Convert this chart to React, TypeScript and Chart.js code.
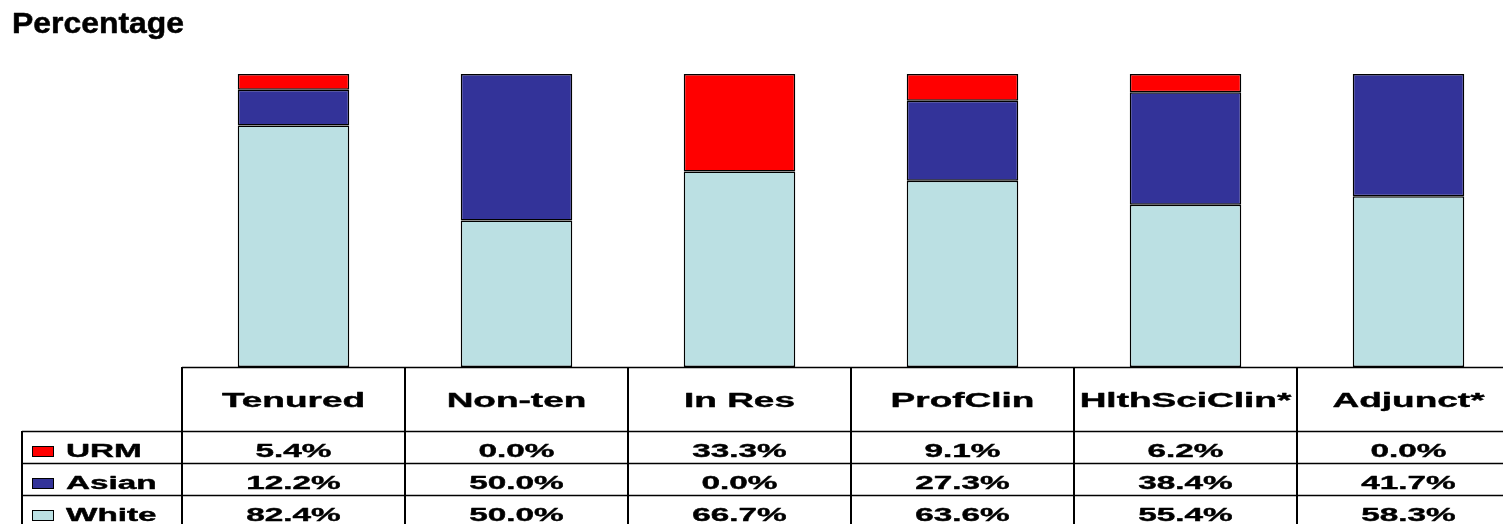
import React, { useEffect, useRef } from "react";
import { Chart, registerables } from "chart.js";

Chart.register(...registerables);

const categories = ["Tenured", "Non-ten", "In Res", "ProfClin", "HlthSciClin*", "Adjunct*"];
const seriesNames = ["URM", "Asian", "White"];
const urmValues = [5.4, 0.0, 33.3, 9.1, 6.2, 0.0];
const asianValues = [12.2, 50.0, 0.0, 27.3, 38.4, 41.7];
const whiteValues = [82.4, 50.0, 66.7, 63.6, 55.4, 58.3];
const seriesColors = ["#FF0000", "#333399", "#BBE0E3"];
const titleText = "Percentage";

const FONT = '"Liberation Sans", Arial, sans-serif';
const SX = 1.85;

function drawStretched(ctx: CanvasRenderingContext2D, text: string, x: number, y: number, font: string, sx: number, align: CanvasTextAlign, embolden = 0.4) {
  ctx.save();
  ctx.translate(x, y);
  ctx.scale(sx, 1);
  ctx.font = font;
  ctx.textAlign = align;
  ctx.textBaseline = "alphabetic";
  ctx.fillStyle = "#000";
  ctx.fillText(text, 0, 0);
  if (embolden > 0) {
    ctx.strokeStyle = "#000";
    ctx.lineWidth = embolden;
    ctx.lineJoin = "round";
    ctx.strokeText(text, 0, 0);
  }
  ctx.restore();
}

const tablePlugin = {
  id: "dataTable",
  afterDraw(chart: any) {
    const ctx: CanvasRenderingContext2D = chart.ctx;
    const area = chart.chartArea;
    const xs = chart.scales.x;
    const n = categories.length;
    const colW = (area.right - area.left) / n;
    const tableTop = area.bottom;
    const headerBottom = tableTop + 64;
    const rowH = 32;
    const legendLeft = 22;
    const canvasRight = chart.width;
    const bottom = chart.height;

    // title
    drawStretched(ctx, titleText, 12, 33, `bold 29px ${FONT}`, 1.1, "left", 0.5);

    ctx.save();
    ctx.strokeStyle = "#000";
    // horizontal lines
    ctx.lineWidth = 1.5;
    ctx.beginPath();
    ctx.moveTo(area.left, tableTop + 0.5);
    ctx.lineTo(canvasRight, tableTop + 0.5);
    for (let r = 0; r < seriesNames.length; r++) {
      const y = headerBottom + r * rowH + 0.5;
      ctx.moveTo(legendLeft, y);
      ctx.lineTo(canvasRight, y);
    }
    ctx.stroke();
    // vertical lines
    ctx.lineWidth = 2;
    ctx.beginPath();
    ctx.moveTo(legendLeft, headerBottom);
    ctx.lineTo(legendLeft, bottom);
    for (let i = 0; i <= n; i++) {
      const x = Math.round(area.left + i * colW);
      ctx.moveTo(x, tableTop);
      ctx.lineTo(x, bottom);
    }
    ctx.stroke();
    ctx.restore();

    const rows = [urmValues, asianValues, whiteValues];
    for (let i = 0; i < n; i++) {
      const cx = xs.getPixelForValue(i);
      drawStretched(ctx, categories[i], cx, tableTop + 40, `bold 20px ${FONT}`, SX, "center");
      for (let r = 0; r < rows.length; r++) {
        const y = headerBottom + r * rowH + 26;
        drawStretched(ctx, rows[r][i].toFixed(1) + "%", cx, y, `bold 18px ${FONT}`, SX, "center");
      }
    }
    // legend
    for (let r = 0; r < seriesNames.length; r++) {
      const y = headerBottom + r * rowH;
      ctx.save();
      ctx.fillStyle = seriesColors[r];
      ctx.fillRect(32, y + 15, 22, 11);
      ctx.strokeStyle = "#000";
      ctx.lineWidth = 1;
      ctx.strokeRect(32.5, y + 15.5, 21, 10);
      ctx.restore();
      drawStretched(ctx, seriesNames[r], 66, y + 26, `bold 18px ${FONT}`, SX, "left");
    }
  },
};

export default function App() {
  const ref = useRef<HTMLCanvasElement | null>(null);
  useEffect(() => {
    if (!ref.current) return;
    const values = [urmValues, asianValues, whiteValues];
    const chart = new Chart(ref.current, {
      type: "bar",
      data: {
        labels: categories,
        datasets: [2, 1, 0].map((k) => ({
          label: seriesNames[k],
          data: values[k],
          backgroundColor: seriesColors[k],
          borderColor: "#000",
          borderWidth: 1.5,
          borderSkipped: false,
          barPercentage: 0.5,
          categoryPercentage: 1,
        })),
      },
      options: {
        responsive: false,
        animation: false,
        layout: { padding: { left: 182, right: 0, top: 74, bottom: 157 } },
        plugins: { legend: { display: false }, tooltip: { enabled: false }, title: { display: false } },
        scales: {
          x: { stacked: true, display: false, offset: true },
          y: { stacked: true, display: false, min: 0, max: 100 },
        },
      },
      plugins: [tablePlugin],
    });
    return () => chart.destroy();
  }, []);
  return (
    <div style={{ position: "fixed", left: 0, top: 0, width: 1503, height: 524, overflow: "hidden", background: "#fff" }}>
      <canvas ref={ref} width={1520} height={524} style={{ display: "block" }} />
    </div>
  );
}
